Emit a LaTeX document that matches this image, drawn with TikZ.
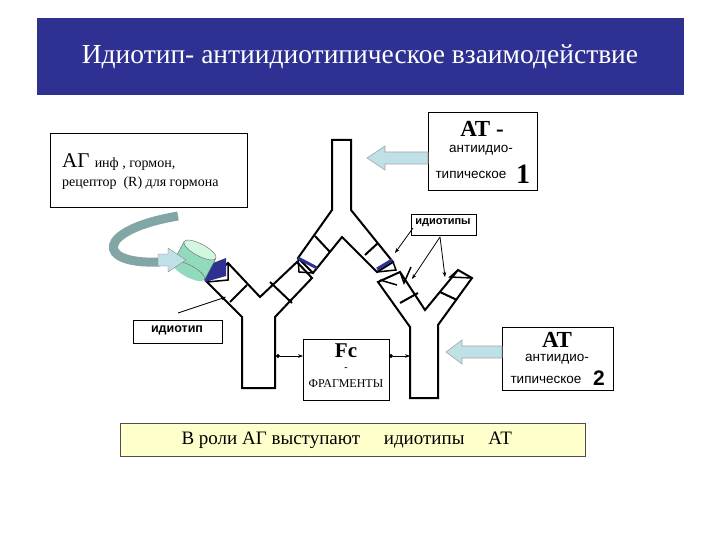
\documentclass[tikz,border=0pt]{standalone}
\usepackage{fontspec}
\setmainfont{Liberation Serif}
\newfontfamily\sans{Liberation Sans}
\usetikzlibrary{arrows.meta}
\definecolor{hdr}{HTML}{2E3192}
\definecolor{lblue}{HTML}{BFE0E6}
\definecolor{cyl}{HTML}{B5F0CC}
\definecolor{yel}{HTML}{FFFFCC}
\begin{document}
\begin{tikzpicture}[x=1pt,y=-1pt,
  box/.style={draw,line width=0.8pt,fill=white,inner sep=0},
  ab/.style={draw,line width=2pt,fill=white,line join=miter},
  bar/.style={line width=2pt},
  ptr/.style={-{Stealth[length=5pt]},line width=0.8pt},
  blk/.style={draw=gray!70,fill=lblue,line width=0.6pt}]
\useasboundingbox (0,0) rectangle (720,540);
\fill[white] (0,0) rectangle (720,540);
% header
\fill[hdr] (37,18) rectangle (684,95);
\node[text=white,font=\fontsize{27.5}{30}\selectfont] (title) at (360,57) {Идиотип- антиидиотипическое взаимодействие};
% boxes
\draw[box] (50,133) rectangle (247,207);
\node[anchor=west,inner sep=0] (ag1) at (62,162) {\fontsize{21}{23}\selectfont АГ \fontsize{14}{16}\selectfont инф , гормон,};
\node[anchor=west,inner sep=0,font=\fontsize{14}{16}\selectfont] (ag2) at (62,183) {рецептор \ (R) для гормона};
\draw[box] (428,112) rectangle (537,190);
\node[font=\fontsize{23}{25}\selectfont\bfseries] (at1) at (482,129) {АТ -};
\node[font=\sans\fontsize{13.5}{15}\selectfont] (at1b) at (481,150) {антиидио-};
\node[font=\sans\fontsize{13.5}{15}\selectfont,anchor=west] (at1c) at (432,175) {типическое};
\node[font=\fontsize{28}{30}\selectfont\bfseries] (at1d) at (523,174) {1};
\draw[box] (502,327) rectangle (613,390);
\node[font=\fontsize{23}{25}\selectfont\bfseries] (at2) at (557,340) {АТ};
\node[font=\sans\fontsize{13.5}{15}\selectfont] (at2b) at (557,359) {антиидио-};
\node[font=\sans\fontsize{13.5}{15}\selectfont,anchor=west] (at2c) at (507,380) {типическое};
\node[font=\sans\fontsize{21}{23}\selectfont\bfseries] (at2d) at (599,378) {2};
\draw[box] (303,339) rectangle (389,400);
\node[font=\fontsize{21}{23}\selectfont\bfseries] (fc) at (346,351) {Fc};
\node[font=\bfseries] (fcd) at (346,369) {-};
\node[font=\fontsize{12}{14}\selectfont] (fcf) at (346,384) {ФРАГМЕНТЫ};
\draw[box] (133,320) rectangle (222,343);
\node[font=\sans\bfseries\fontsize{12.5}{14}\selectfont] (idt) at (177,330) {идиотип};
\draw[box] (411,214) rectangle (476,235);
\node[font=\sans\bfseries\fontsize{11}{13}\selectfont] (idts) at (443,223) {идиотипы};
\draw[fill=yel,draw=black!70,line width=1pt] (120,423) rectangle (585,456);
\node[font=\fontsize{19}{21}\selectfont,anchor=west] (bt) at (178,440) {В роли АГ выступают \quad идиотипы \quad АТ};
% antibodies
\draw[ab] (332,140)--(351,140)--(351,210)--(393,262)--(377,272)--(342,237)--(313,273)--(298,258)--(332,210)--cycle;
\draw[ab] (242,388)--(275,388)--(275,317)--(312,278)--(297,262)--(260,297)--(228,263)--(207,282)--(242,317)--cycle;
\draw[ab] (410,398)--(438,398)--(438,325)--(472,278)--(458,270)--(425,310)--(400,272)--(378,282)--(410,327)--cycle;
% jagged tips
\draw[line width=1.5pt] (228,263)--(228,280)--(207,282);
\draw[line width=1.5pt] (298,258)--(299,272)--(313,273);
\draw[line width=1.5pt] (377,272)--(396,270)--(393,262);
\draw[line width=1.5pt] (400,272)--(404,283)--(411,267);
\draw[line width=1.5pt] (458,270)--(450,277)--(472,278);
\draw[line width=1.5pt] (380,280)--(397,285);
% hinge bars
\draw[bar] (315,236)--(330,252); \draw[bar] (365,255)--(378,243);
\draw[bar] (230,302)--(247,285); \draw[bar] (270,282)--(292,303);
\draw[bar] (400,303)--(418,293); \draw[bar] (440,292)--(457,300);
\draw[line width=3pt,hdr] (298,258)--(317,268);
\draw[line width=3pt,hdr] (377,269)--(392,260);
% cylinder
\fill[hdr] (200,268)--(226,258)--(226,276)--(205,282)--cycle;
\begin{scope}[shift={(200,250)},rotate=-28]
\fill[cyl!80!teal] (-18,0) rectangle (18,24);
\fill[cyl!80!teal] (0,24) ellipse (18 and 6);
\draw[black!60] (-18,0)--(-18,24) (18,0)--(18,24);
\draw[black!60] (-18,24) arc[start angle=180,end angle=360,x radius=18,y radius=6];
\fill[cyl!60!white,draw=black!60] (0,0) ellipse (18 and 6);
\end{scope}
% curved arrow
\draw[line width=9pt,draw=gray!60!teal!70] (178,216) .. controls (95,230) and (95,265) .. (160,262);
\fill[lblue,draw=gray] (158,254)--(168,254)--(168,248)--(186,260)--(168,272)--(168,266)--(158,266)--cycle;
% block arrows
\draw[blk] (428,152)--(385,152)--(385,146)--(367,158)--(385,170)--(385,164)--(428,164)--cycle;
\draw[blk] (502,346)--(462,346)--(462,340)--(446,352)--(462,364)--(462,358)--(502,358)--cycle;
% fc arrows
\draw[{Circle[length=4pt]}-{Stealth[length=5pt]},line width=0.8pt] (276,356)--(303,356);
\draw[{Circle[length=4pt]}-{Stealth[length=5pt]},line width=0.8pt] (389,356)--(410,356);
% pointers
\draw[ptr] (178,313)--(226,297);
\draw[ptr] (413,228)--(395,253);
\draw[ptr] (440,237)--(412,279);
\draw[ptr] (440,237)--(445,277);
\end{tikzpicture}
\end{document}
